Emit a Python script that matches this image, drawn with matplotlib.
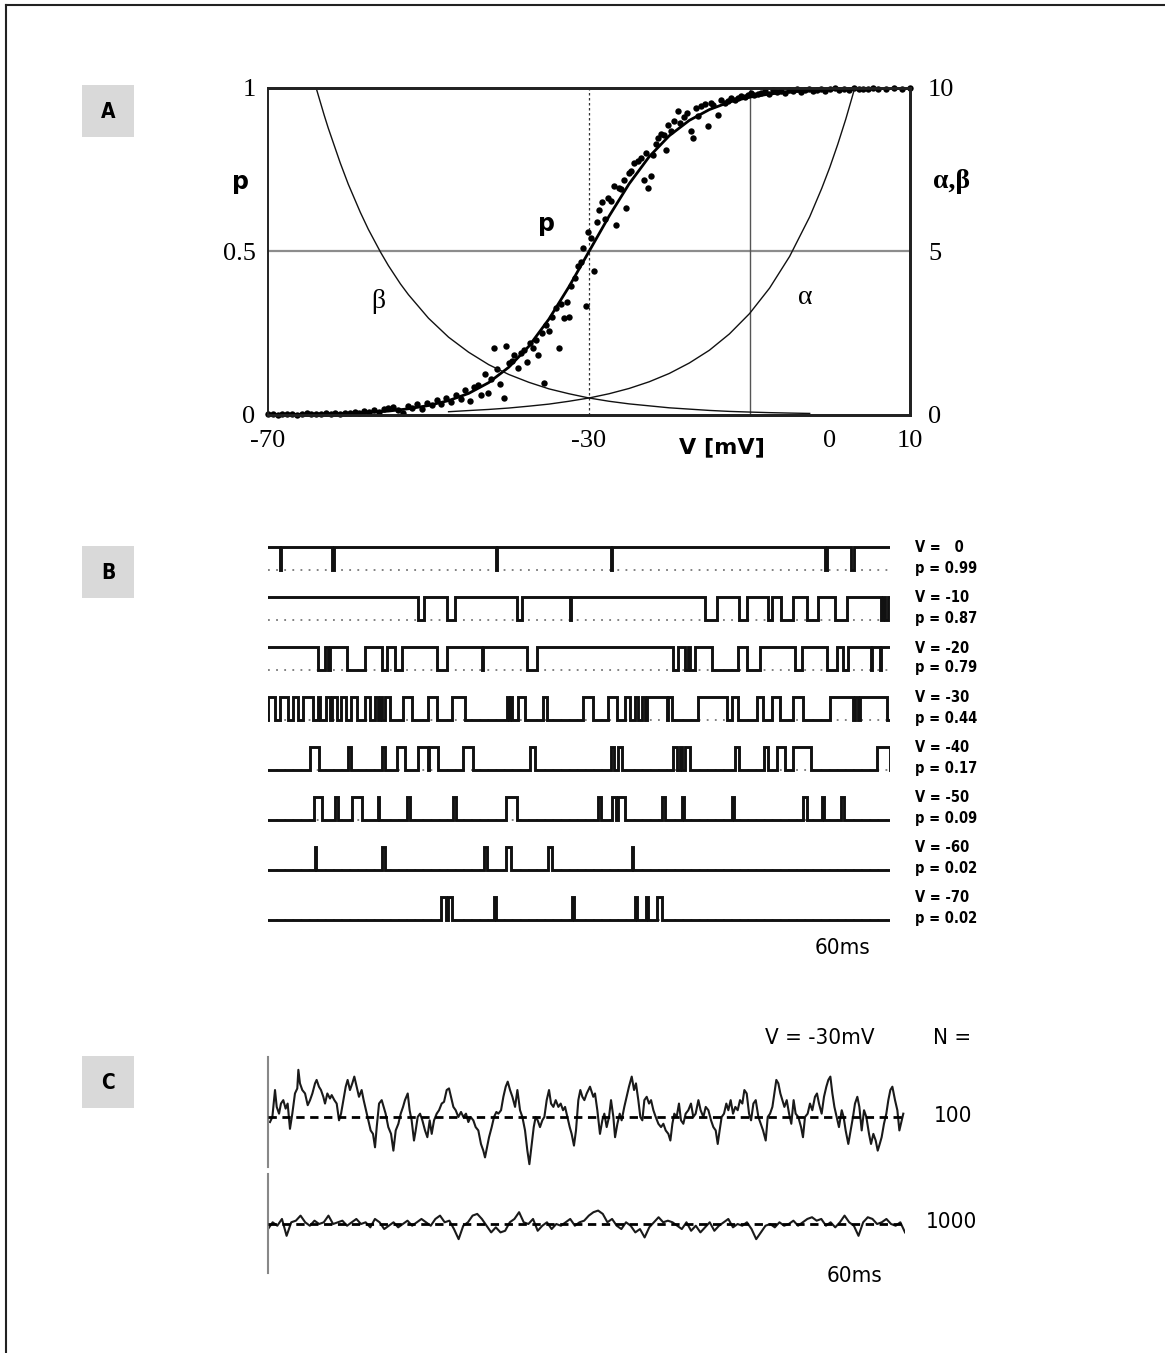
import matplotlib
matplotlib.use("Agg")
import matplotlib.pyplot as plt
import numpy as np
from matplotlib.patches import Rectangle
from matplotlib.lines import Line2D

W, H = 1165, 1353

# ---------------- Panel A data ----------------
alpha_V = [-47.5, -45, -42.5, -40, -37.5, -35, -32.5, -30, -27.5, -25, -22.5, -20, -17.5, -15,
           -12.5, -10, -7.5, -5, -2.5, -1, 0, 1, 2, 3, 4, 4.5]
alpha_vals = [0.10, 0.136, 0.17, 0.213, 0.27, 0.333, 0.42, 0.52, 0.65, 0.812, 1.016, 1.27, 1.59, 1.98,
              2.48, 3.10, 3.88, 4.85, 6.06, 6.93, 7.57, 8.28, 9.05, 9.90, 10.83, 11.3]
beta_V = [-65, -64, -63, -62.5, -61, -60, -58.5, -57.5, -56, -55, -53.5, -52.5, -50, -47.5, -45,
          -42.5, -40, -37.5, -35, -32.5, -30, -27.5, -25, -22.5, -20, -17.5, -15, -12.5, -10, -7.5,
          -5, -2.5]
beta_vals = [10.9, 10.0, 9.17, 8.78, 7.71, 7.06, 6.20, 5.68, 4.99, 4.57, 4.01, 3.68, 2.96, 2.38,
             1.92, 1.54, 1.24, 1.00, 0.80, 0.65, 0.52, 0.42, 0.34, 0.28, 0.22, 0.18, 0.14, 0.11,
             0.09, 0.072, 0.059, 0.048]
p_V = [-70, -65, -60, -57.5, -55, -52.5, -50, -47.5, -45, -42.5, -40, -37.5, -35, -32.5, -30,
       -27.5, -25, -22.5, -20, -17.5, -15, -12.5, -10, -7.5, -5, -2.5, 0, 5, 10]
p_vals = [0.001, 0.002, 0.005, 0.008, 0.012, 0.019, 0.029, 0.044, 0.066, 0.099, 0.146, 0.210, 0.293,
          0.392, 0.5, 0.608, 0.707, 0.790, 0.854, 0.901, 0.934, 0.957, 0.972, 0.9815, 0.988, 0.992,
          0.995, 0.998, 0.999]

dots_V = [-70, -69.4, -68.8, -68.2, -67.6, -67, -66.4, -65.8, -65.2, -64.6, -64, -63.4, -62.8, -62.2,
          -61.6, -61, -60.4, -59.8, -59.2, -58.6, -58, -57.4, -56.8, -56.2, -55.6,
          -55, -54.4, -53.8, -53.2, -52.6, -52, -51.4, -50.8, -50.2, -49.6, -49, -48.4, -47.8, -47.2,
          -46.6, -46, -45.4,
          -44.8, -44.3, -43.8, -43.4, -43.0, -42.6, -42.2, -41.9, -41.5, -41.1, -40.6, -40.3, -40.0,
          -39.6, -39.3, -38.9, -38.5, -38.1, -37.7, -37.4, -37.0, -36.6, -36.3, -35.9, -35.6, -35.3,
          -35.0,
          -34.6, -34.1, -33.8, -33.5, -33.1, -32.8, -32.5, -32.2, -31.8, -31.4, -31.0, -30.7, -30.4,
          -30.1, -29.7, -29.4, -29.0, -28.8, -28.4, -28.0, -27.6, -27.3, -26.9, -26.6, -26.3, -26.0,
          -25.6, -25.4, -25.0,
          -24.8, -24.4, -23.9, -23.5, -23.2, -22.9, -22.6, -22.3, -22.0, -21.7, -21.4, -21.0, -20.7,
          -20.4, -20.1, -19.8, -19.4, -18.9, -18.6, -18.2, -17.8, -17.3, -17.0, -16.7, -16.4, -16.0,
          -15.6, -15.2,
          -14.8, -14.5, -13.9, -13.5, -13.1, -12.7, -12.3, -11.8, -11.4, -11.0, -10.6, -10.2, -9.8,
          -9.4, -9.0, -8.6, -8.1, -7.6, -7.1, -6.6, -6.1, -5.6, -5.1, -4.6, -4.1, -3.6, -3.1, -2.6,
          -2.1, -1.6, -1.1, -0.6, 0, 0.6, 1.2, 1.8, 2.4, 3.0, 3.6, 4.2, 4.8, 5.4, 6.0, 7.0, 8.0, 9.0,
          10.0]
dots_p = [0.002, 0.004, 0.001, 0.003, 0.002, 0.004, 0.001, 0.003, 0.005, 0.002, 0.004, 0.003, 0.006,
          0.002, 0.005, 0.004, 0.007, 0.005, 0.009, 0.006, 0.012, 0.008, 0.015, 0.010, 0.018,
          0.020, 0.025, 0.015, 0.005, 0.028, 0.022, 0.033, 0.018, 0.038, 0.030, 0.045, 0.035, 0.052,
          0.040, 0.060, 0.048, 0.075,
          0.042, 0.085, 0.093, 0.060, 0.125, 0.068, 0.110, 0.205, 0.140, 0.095, 0.052, 0.212, 0.160,
          0.165, 0.185, 0.145, 0.190, 0.198, 0.162, 0.219, 0.206, 0.230, 0.184, 0.250, 0.097, 0.275,
          0.258,
          0.300, 0.327, 0.204, 0.340, 0.296, 0.347, 0.301, 0.395, 0.420, 0.455, 0.469, 0.510, 0.332,
          0.561, 0.540, 0.439, 0.590, 0.628, 0.650, 0.600, 0.663, 0.653, 0.700, 0.582, 0.694, 0.690,
          0.720, 0.633, 0.740,
          0.745, 0.770, 0.776, 0.786, 0.719, 0.800, 0.694, 0.730, 0.796, 0.830, 0.847, 0.860, 0.855,
          0.811, 0.888, 0.870, 0.900, 0.929, 0.893, 0.910, 0.925, 0.867, 0.847, 0.939, 0.913, 0.945,
          0.950, 0.883,
          0.955, 0.949, 0.918, 0.962, 0.955, 0.959, 0.968, 0.962, 0.969, 0.975, 0.972, 0.980, 0.985,
          0.978, 0.983, 0.985, 0.990, 0.982, 0.995, 0.988, 0.992, 0.985, 0.994, 0.990, 0.996, 0.989,
          0.993, 0.997, 0.991, 0.995, 0.998, 0.992, 0.996, 0.999, 0.994, 0.998, 0.995, 0.999, 0.996,
          0.998, 0.997, 0.999, 0.997, 0.998, 0.999, 0.998, 0.999]

A_xticks = [-70, -30, 0, 10]
A_xticklabels = ["-70", "-30", "0", "10"]
A_lyticks = [0, 0.5, 1]
A_lyticklabels = ["0", "0.5", "1"]
A_ryticks = [0, 5, 10]
A_ryticklabels = ["0", "5", "10"]

# ---------------- Panel B data (times in ms, 0-60) ----------------
B_V_labels = ["V =   0", "V = -10", "V = -20", "V = -30", "V = -40", "V = -50", "V = -60", "V = -70"]
B_p_labels = ["p = 0.99", "p = 0.87", "p = 0.79", "p = 0.44", "p = 0.17", "p = 0.09", "p = 0.02", "p = 0.02"]
B_default_open = [True, True, True, False, False, False, False, False]
# intervals in the state opposite to the default
B_events = [
    [(1.2, 1.3), (6.2, 6.4), (21.95, 22.05), (33.05, 33.15), (53.7, 53.9), (56.25, 56.5)],
    [(14.5, 15.0), (17.3, 18.0), (24.0, 24.5), (29.1, 29.2), (42.15, 43.3), (45.4, 46.2),
     (48.2, 48.6), (49.5, 50.6), (52.0, 53.1), (54.7, 55.9), (59.1, 59.3), (59.5, 59.8)],
    [(4.85, 5.5), (5.82, 5.98), (7.59, 9.36), (10.97, 11.45), (12.25, 12.96), (16.27, 17.24),
     (20.62, 20.72), (24.95, 25.92), (39.1, 39.58), (40.22, 40.56), (40.71, 41.19), (42.8, 45.37),
     (46.18, 47.46), (50.84, 51.48), (53.89, 54.86), (55.5, 55.98), (58.12, 58.22), (59.08, 59.18)],
    [(0.0, 0.68), (1.16, 1.93), (2.41, 2.89), (3.38, 4.34), (4.82, 5.02), (5.59, 5.98), (6.13, 6.61),
     (7.09, 7.57), (8.05, 8.54), (9.36, 9.84), (10.32, 10.61), (10.76, 11.0), (11.29, 11.77),
     (13.05, 13.86), (15.46, 16.27), (17.72, 19.0), (23.03, 23.25), (23.34, 23.51), (24.14, 24.79),
     (26.56, 26.88), (30.41, 31.38), (32.83, 33.64), (34.44, 34.92), (35.4, 35.72), (36.05, 36.37),
     (36.53, 38.46), (38.59, 38.94), (41.51, 44.25), (44.73, 45.37), (47.14, 47.78), (48.59, 49.39),
     (50.67, 51.63), (54.21, 56.46), (56.62, 56.91), (57.1, 59.68)],
    [(4.05, 4.92), (7.75, 8.01), (10.97, 11.29), (12.41, 13.22), (14.5, 15.46), (15.56, 16.43),
     (18.84, 19.8), (25.27, 25.76), (33.09, 33.4), (33.79, 34.12), (39.1, 39.42), (39.74, 39.96),
     (40.22, 40.71), (45.05, 45.43), (47.87, 48.2), (49.07, 49.87), (50.67, 52.38), (58.72, 60.0)],
    [(4.47, 5.18), (6.46, 6.78), (8.13, 9.04), (10.64, 10.74), (13.38, 13.7), (17.87, 18.11),
     (22.93, 23.99), (31.86, 32.12), (33.15, 33.54), (33.73, 34.44), (38.04, 38.3), (39.96, 40.1),
     (44.73, 44.98), (51.63, 51.96), (53.41, 53.66), (55.27, 55.53)],
    [(4.53, 4.63), (10.97, 11.29), (20.86, 21.1), (22.93, 23.44), (27.04, 27.42), (35.08, 35.21)],
    [(16.69, 17.14), (17.33, 17.72), (21.77, 21.97), (29.3, 29.49), (35.4, 35.6), (36.43, 36.63),
     (37.49, 38.04)],
]

# ---------------- Panel C data ----------------
C1_t = [0.19, 0.41, 0.66, 0.82, 1.04, 1.22, 1.44, 1.66, 1.85, 2.07, 2.29, 2.54, 2.76, 2.86, 3.01,
        3.23, 3.49, 3.74, 3.96, 4.18, 4.43, 4.58, 4.80, 4.99, 5.21, 5.37, 5.59, 5.84, 6.0, 6.25,
        6.47, 6.69, 6.88, 7.10, 7.32, 7.50, 7.72, 7.94, 8.13, 8.35, 8.57, 8.82, 9.01, 9.23, 9.45,
        9.67, 9.89, 10.08, 10.24, 10.46, 10.71, 10.90, 11.08, 11.33, 11.59, 11.81, 12.03, 12.28,
        12.50, 12.72, 12.90, 13.16, 13.34, 13.53, 13.75, 13.91, 14.10, 14.32, 14.54, 14.79, 15.01,
        15.23, 15.42, 15.64, 15.89, 16.11, 16.36, 16.58, 16.83, 17.05, 17.24, 17.46, 17.68, 17.93,
        18.18, 18.40, 18.65, 18.87, 19.09, 19.34, 19.56, 19.81, 20.06, 20.28, 20.44, 20.63, 20.82,
        21.07, 21.29, 21.51, 21.70, 21.95, 22.17, 22.39, 22.58, 22.80, 23.02, 23.27, 23.49, 23.74,
        23.96, 24.21, 24.43, 24.62, 24.84, 25.03, 25.21, 25.40, 25.62, 25.84, 26.03, 26.25, 26.47,
        26.66, 26.88, 27.10, 27.35, 27.57, 27.79, 27.98, 28.20, 28.42, 28.60, 28.82, 29.01, 29.23,
        29.42, 29.61, 29.80, 30.02, 30.33, 30.64,
        30.80, 31.02, 31.27, 31.49, 31.68, 31.90, 32.12, 32.31, 32.53, 32.69, 32.91, 33.13, 33.31,
        33.56, 33.78, 34.00, 34.26, 34.48, 34.66, 34.88, 35.07, 35.26, 35.45, 35.67, 35.89, 36.08,
        36.30, 36.52, 36.77, 37.02, 37.24, 37.46, 37.71, 37.90, 38.09, 38.27, 38.49, 38.71, 38.90,
        39.12, 39.34, 39.59, 39.84, 40.06, 40.28, 40.54, 40.75, 41.01, 41.23, 41.48, 41.73, 41.95,
        42.17, 42.36, 42.54, 42.73, 42.95, 43.17, 43.36, 43.58, 43.80, 44.02, 44.24, 44.46, 44.68,
        44.87, 45.09, 45.31, 45.50, 45.72, 45.94, 46.19, 46.41, 46.63, 46.88, 47.07, 47.29, 47.51,
        47.69, 47.88, 48.07, 48.26, 48.45, 48.64, 48.86, 49.08, 49.29, 49.51, 49.70, 49.95, 50.21,
        50.39, 50.58, 50.83, 51.05, 51.27, 51.52, 51.71, 51.90, 52.15, 52.37, 52.59, 52.78, 52.97,
        53.16, 53.35, 53.56, 53.78, 54.04, 54.22, 54.41, 54.66, 54.88, 55.10, 55.29, 55.51, 55.70,
        55.92, 56.14, 56.36, 56.61, 56.80, 57.02, 57.24, 57.43, 57.62, 57.80, 58.02, 58.24, 58.43,
        58.62, 58.81, 59.06, 59.28, 59.47, 59.69, 59.84]
C1_val = [-0.5, 0, 2.67, 1.0, 0.33, 1.33, 1.67, 0.83, 1.33, -1.17, 0.33, 2.33, 2.83, 4.67, 3.33,
          2.67, 2.33, 1.17, 1.67, 2.33, 3.33, 3.67, 3.0, 2.67, 2.0, 1.33, 2.33, 1.83, 2.17, 1.67,
          1.33, -0.33, 0.33, 1.67, 3.0, 3.67, 2.67, 3.33, 4.0, 3.0, 2.0, 2.67, 1.67, 0.67, -0.33,
          -1.33, -1.67, -3.0, -1.0, 1.33, 1.67, 1.0, 0.33, -1.0, -1.67, -3.33, -1.33, -0.67,
          0.33, 1.0, 1.67, 2.33, 0.67, -0.33, -2.33, -1.33, 0, 0.33, -0.33, -1.33, -2.0,
          -0.33, -1.67, -0.33, 0.33, 0.67, 1.33, 1.5, 2.67, 2.83, 2.0, 1.0, 0.67, 0,
          0.5, 0, 0.33, -0.5, 0, -0.33, -1.0, -1.33, -2.67, -3.33, -4.0, -3.0, -2.0,
          -1.0, 0, 0.5, 0.33, 0.67, 2.0, 3.0, 3.5, 2.67, 2.0, 1.0, 2.67, 0.67,
          0, -1.33, -3.33, -4.67, -2.67, -1.0, 0, -0.33, -1.0, -0.33, 0, 1.67, 2.67,
          1.33, 1.0, 1.67, 1.0, 1.33, 0.67, 1.0, 0, -1.0, -1.67, -2.83, -1.33, 1.67,
          2.67, 2.0, 1.67, 2.33, 3.0, 2.0,
          2.33, 0.67, -1.67, -0.33, 0.33, -1.0, 0, 1.67, 0, -2.0, -0.67, 0.33, -0.33,
          1.0, 2.0, 3.0, 4.0, 2.67, 3.33, 1.67, 0, -0.33, 1.67, 2.0, 1.33, 1.67,
          0.67, 0, -0.67, -1.0, -0.67, -1.33, -1.67, -2.33, -0.67, 0.33, 0, 1.33, -0.33,
          -0.67, 0.33, 0.67, 1.33, 0, 0.33, 1.67, 0.67, 0, 1.0, 0.67, -0.33, -1.0,
          -1.33, -2.67, -1.33, 0, 0.33, 1.33, 0.67, 1.67, 0.33, 1.0, 0.67, 1.67, 1.33,
          2.67, 2.33, 0.33, -0.33, 1.33, 1.67, 0, -0.67, -1.33, -2.33, 0, 0.33, 1.0,
          2.33, 3.67, 3.33, 2.33, 1.67, 1.0, 1.67, 0.33, -0.67, 1.67, 0.33, 0, -1.0,
          -2.0, 0, 0.33, 1.33, 0.67, 2.0, 2.33, 1.33, 0.33, 2.0, 3.0, 3.67, 4.0,
          2.33, 1.0, 0, -1.0, 0.67, 0, -1.33, -2.67, -1.33, 0, 1.33, 2.0, 1.0,
          -1.33, 0.67, 0, -1.67, -2.67, -1.67, -2.33, -3.33, -2.67, -2.0, -0.67, 0.33, 1.67,
          2.67, 3.0, 1.67, 0.67, -1.33, -0.33, 0.33]
C2_val = [-0.5, 0.17, -0.17, 0.5, -1.17, 0.17, 0.33, 0.83, 0.17, -0.17, 0.33, 0, 0.17, 0.83, 0, 0.17,
          0.33, -0.17, 0.17, 0.5, 0, 0.17, -0.33, 0.5, 0.17, -0.5, -0.17, 0.17, -0.33, 0, 0.33, -0.17,
          0.17, 0.5, 0.17, -0.17, 0.5, 0.83, 0.17, 0.33, -0.5, -1.5, -0.17, 0.17, 0.83, 1.0, 0.5, -0.17,
          -0.83, -0.33, -0.83, -0.67, 0.17, 0.5, 1.17, 0.17, 0, 0.5, -0.67, -0.17, 0.17, -0.5, 0, -0.17,
          0.17, 0.5, -0.17, 0.17, 0.33, 0.83, 1.17, 1.33, 1.0, 0.17, 0.5, -0.17, -0.5, 0.17, -0.17,
          -0.83, -0.5, -1.33, -0.33, 0.17, 0.67, 0.17, 0.33, 0.17, -0.17, -0.5, 0.17, -0.67, -0.17,
          -0.83, -0.33, 0.17, -0.67, -0.17, 0.17, 0.5, -0.33, 0, -0.17, 0.17, -0.5, -1.5, -0.83, -0.17,
          0, -0.33, 0.17, -0.17, 0, 0.33, -0.17, 0.17, 0.5, 0.67, 0.33, 0.5, -0.17, 0.17, -0.33, 0.17,
          0.83, 0.17, -0.17, -1.17, 0.17, 0.67, 0.5, 0, 0.17, 0.5, 0, -0.17, 0.17, -0.83]

# ---------------- helpers ----------------
def rect(x0, y0, x1, y1):
    return [x0 / W, 1 - y1 / H, (x1 - x0) / W, (y1 - y0) / H]

fig = plt.figure(figsize=(W / 100, H / 100), dpi=100)
fig.patch.set_facecolor("white")

def ftext(x, y, s, **kw):
    kw.setdefault("ha", "center")
    kw.setdefault("va", "center")
    fig.text(x / W, 1 - y / H, s, **kw)

# frame lines (top and left)
fig.add_artist(Line2D([6 / W, 1.0], [1 - 5 / H, 1 - 5 / H], transform=fig.transFigure,
                      color="#222222", lw=1.5))
fig.add_artist(Line2D([6 / W, 6 / W], [1 - 5 / H, 0.0], transform=fig.transFigure,
                      color="#222222", lw=1.5))

# panel label boxes
for lab, y0 in [("A", 85), ("B", 546), ("C", 1056)]:
    fig.add_artist(Rectangle((82 / W, 1 - (y0 + 52) / H), 52 / W, 52 / H,
                             transform=fig.transFigure, facecolor="#d9d9d9", edgecolor="none"))
    ftext(108, y0 + 27, lab, fontsize=15, fontweight="bold", family="DejaVu Sans",
          fontstretch="condensed")

# ---------------- Panel A ----------------
serif = "Liberation Serif"
axA = fig.add_axes(rect(268, 88, 910, 415))
axA.set_xlim(-70, 10)
axA.set_ylim(0, 1)
axA2 = axA.twinx()
axA2.set_ylim(0, 10)
axA.axhline(0.5, color="#8c8c8c", lw=1.6, zorder=1)
axA.axvline(-30, color="#333333", lw=0.9, ls=(0, (2, 2)), zorder=1)
axA.axvline(-10, color="#555555", lw=1.0, zorder=1)
axA2.plot(alpha_V, alpha_vals, color="#111111", lw=1.0)
axA2.plot(beta_V, beta_vals, color="#111111", lw=1.0)
axA.plot(p_V, p_vals, color="black", lw=2.0, zorder=3)
axA.plot(dots_V, dots_p, "o", ms=4.6, color="black", mew=0, zorder=4, clip_on=False)

axA.set_xticks(A_xticks)
axA.set_xticklabels(A_xticklabels, family=serif, fontsize=19)
axA.set_yticks(A_lyticks)
axA.set_yticklabels(A_lyticklabels, family=serif, fontsize=19)
axA2.set_yticks(A_ryticks)
axA2.set_yticklabels(A_ryticklabels, family=serif, fontsize=19)
axA.tick_params(axis="x", length=0, pad=11)
axA.tick_params(axis="y", length=0, pad=9)
axA2.tick_params(axis="y", length=0, pad=13)
for ax in (axA, axA2):
    ax.spines["top"].set_linewidth(2.0)
    ax.spines["bottom"].set_linewidth(2.0)
    ax.spines["right"].set_linewidth(2.0)
    ax.spines["left"].set_linewidth(1.2)
    for s in ax.spines.values():
        s.set_color("#222222")

ftext(240, 182, "p", fontsize=17, fontweight="bold", family="DejaVu Sans")
ftext(546, 224, "p", fontsize=17, fontweight="bold", family="DejaVu Sans")
ftext(952, 182, "α,β", fontsize=20, fontweight="bold", family=serif)
ftext(378, 302, "β", fontsize=20, family=serif)
ftext(805, 297, "α", fontsize=20, family=serif)
ftext(722, 447, "V [mV]", fontsize=16, fontweight="bold", family="DejaVu Sans")

# ---------------- Panel B ----------------
axB = fig.add_axes(rect(268, 535, 890, 930))
axB.set_xlim(0, 60)
axB.set_ylim(930, 535)
axB.axis("off")
for i, events in enumerate(B_events):
    hi = 547 + 50 * i
    lo = 570 + 50 * i
    base = hi if B_default_open[i] else lo
    other = lo if B_default_open[i] else hi
    xs, ys = [0.0], [base]
    for a, b in events:
        xs += [a, a, b, b]
        ys += [base, other, other, base]
    xs.append(60.0)
    ys.append(base)
    axB.plot([0, 60], [lo, lo], color="#777777", lw=1.3, ls=(0, (1, 3.5)), zorder=1)
    axB.plot(xs, ys, color="#111111", lw=2.1, solid_joinstyle="miter", zorder=2)
    ftext(915, 548 + 50 * i, B_V_labels[i], ha="left", fontsize=10.5, fontweight="bold",
          family="DejaVu Sans", fontstretch="condensed")
    ftext(915, 568 + 50 * i, B_p_labels[i], ha="left", fontsize=10.5, fontweight="bold",
          family="DejaVu Sans", fontstretch="condensed")
ftext(843, 948, "60ms", fontsize=16, family="DejaVu Sans", fontstretch="condensed")

# ---------------- Panel C ----------------
axC1 = fig.add_axes(rect(268, 1057, 905, 1167))
axC1.set_xlim(0, 60)
axC1.set_ylim(-4.95, 5.94)
axC2 = fig.add_axes(rect(268, 1174, 905, 1273))
axC2.set_xlim(0, 60)
axC2.set_ylim(-4.85, 4.95)
C2_t = np.linspace(0, 60, len(C2_val))
axC1.plot(C1_t, C1_val, color="#1a1a1a", lw=1.5)
axC2.plot(C2_t, C2_val, color="#1a1a1a", lw=1.5)
for ax in (axC1, axC2):
    ax.axhline(0, color="black", lw=2.0, ls=(0, (3, 2)), zorder=3)
    for k in ("top", "right", "bottom"):
        ax.spines[k].set_visible(False)
    ax.spines["left"].set_color("#888888")
    ax.spines["left"].set_linewidth(1.5)
    ax.set_xticks([])
    ax.set_yticks([])
    ax.patch.set_alpha(0)

ftext(820, 1038, "V = -30mV", fontsize=16, family="DejaVu Sans", fontstretch="condensed")
ftext(952, 1038, "N =", fontsize=16, family="DejaVu Sans", fontstretch="condensed")
ftext(953, 1116, "100", fontsize=16, family="DejaVu Sans", fontstretch="condensed")
ftext(952, 1222, "1000", fontsize=16, family="DejaVu Sans", fontstretch="condensed")
ftext(855, 1276, "60ms", fontsize=16, family="DejaVu Sans", fontstretch="condensed")

fig.savefig("out.png", dpi=100)
